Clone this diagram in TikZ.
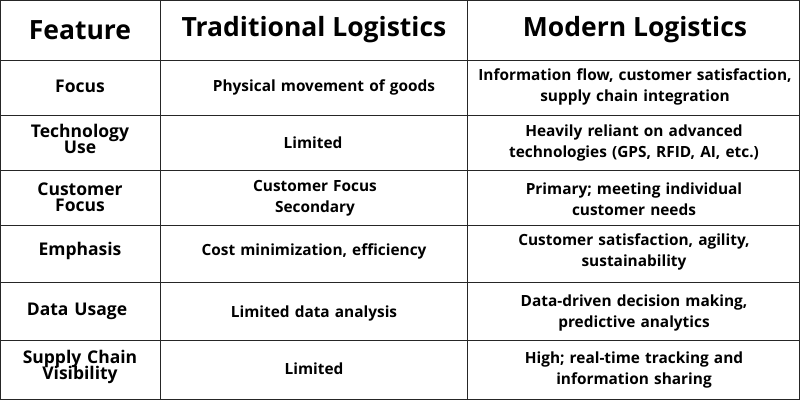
\documentclass[tikz,border=0pt]{standalone}
\usepackage{fontspec}
\setmainfont{Open Sans}
\begin{document}
\begin{tikzpicture}[x=1pt,y=-1pt,
  hd/.style={font=\fontsize{26.5}{29}\selectfont\bfseries,align=center},
  bd/.style={font=\fontsize{15.4}{21}\selectfont\bfseries,align=center,text width=320pt},
  c1/.style={font=\fontsize{17.5}{20}\selectfont\bfseries,align=center,text width=155pt},
  grid/.style={draw=black!85,line width=1pt}]
\fill[white] (0,0) rectangle (800,400);
\useasboundingbox (0,0) rectangle (800,400);
\draw[grid] (0.5,0.5) rectangle (799.5,399.5);
\foreach \y in {60,115,170,225,282,340} \draw[grid] (0,\y) -- (800,\y);
\draw[grid] (160,0) -- (160,400);
\draw[grid] (467,0) -- (467,400);
\node[hd] (h1) at (80,30) {Feature};
\node[hd] (h2) at (314,30) {Traditional Logistics};
\node[hd] (h3) at (635,30) {Modern Logistics};
\node[c1] (a1) at (80,86) {Focus};
\node[bd] (a2) at (324,87) {Physical movement of goods};
\node[bd] (a3) at (635,87) {Information flow, customer satisfaction,\\supply chain integration};
\node[c1] (b1) at (80,139) {Technology\\[-4pt]Use};
\node[bd] (b2) at (313,143) {Limited};
\node[bd] (b3) at (634,143) {Heavily reliant on advanced\\technologies (GPS, RFID, AI, etc.)};
\node[c1] (c1n) at (80,197) {Customer\\[-4pt]Focus};
\node[bd] (c2) at (315,198) {Customer Focus\\Secondary};
\node[bd] (c3) at (634,199) {Primary; meeting individual\\customer needs};
\node[c1] (d1) at (80,251) {Emphasis};
\node[bd] (d2) at (314,251) {Cost minimization, efficiency};
\node[bd] (d3) at (634,252) {Customer satisfaction, agility,\\sustainability};
\node[c1] (e1) at (77,311) {Data Usage};
\node[bd] (e2) at (314,313) {Limited data analysis};
\node[bd] (e3) at (634,313) {Data-driven decision making,\\predictive analytics};
\node[c1] (f1) at (80,367) {Supply Chain\\[-4pt]Visibility};
\node[bd] (f2) at (314,369) {Limited};
\node[bd] (f3) at (634,370) {High; real-time tracking and\\information sharing};
\end{tikzpicture}
\end{document}
